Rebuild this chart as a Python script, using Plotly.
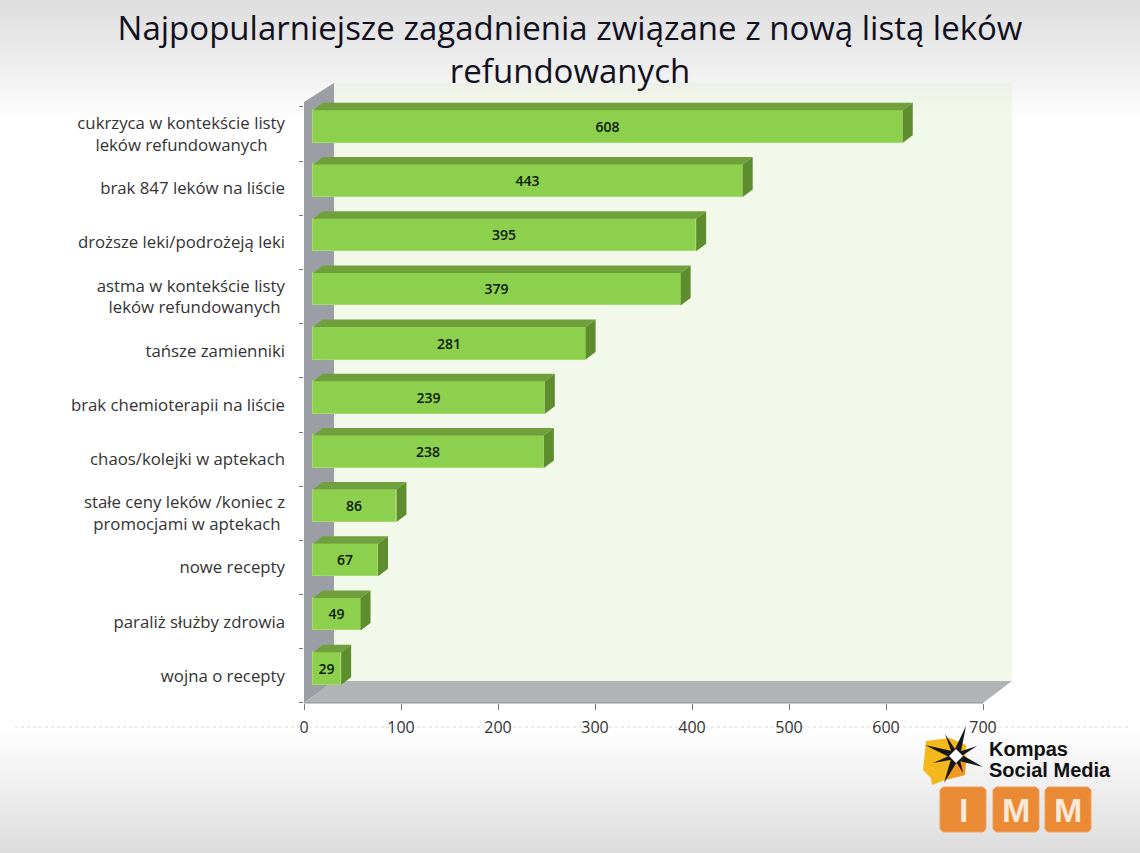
import plotly.graph_objects as go

W, H = 1140, 853

title_text = "Najpopularniejsze zagadnienia związane z nową listą leków<br>refundowanych"
categories = [
    "cukrzyca w kontekście listy<br>leków refundowanych\u00a0\u00a0\u00a0\u00a0",
    "brak 847 leków na liście",
    "droższe leki/podrożeją leki",
    "astma w kontekście listy<br>leków refundowanych\u00a0",
    "tańsze zamienniki",
    "brak chemioterapii na liście",
    "chaos/kolejki w aptekach",
    "stałe ceny leków /koniec z<br>promocjami w aptekach\u00a0",
    "nowe recepty",
    "paraliż służby zdrowia",
    "wojna o recepty",
]
values = [608, 443, 395, 379, 281, 239, 238, 86, 67, 49, 29]
x_ticks = [0, 100, 200, 300, 400, 500, 600, 700]

# plot geometry in pixels
X0, X700 = 304, 983
Y_BOT, Y_SLOT_TOP = 703, 107
ppx = (X700 - X0) / 700
slot = (Y_BOT - Y_SLOT_TOP) / 11
EXTRA = 0.35
Y_TOP = Y_SLOT_TOP - EXTRA * slot

# depth in data units
bar_base = 9 / ppx
bar_shift = 7.5 / slot
bar_h = 32.5 / slot
depth_x = 10 / ppx
depth_y = 7.5 / slot

positions = [i - bar_shift for i in range(len(values))]


def px(x):
    return x / W


def py(y):
    return 1 - y / H


def poly(points):
    return "M" + " L".join(f"{px(a):.5f},{py(b):.5f}" for a, b in points) + " Z"


shapes = []
# page background gradient
TOP_END, BOT_START = 120, 725
TOP_GREY, BOT_GREY = 222, 220
STEP = 4
for y in range(0, TOP_END, STEP):
    v = round(TOP_GREY + (255 - TOP_GREY) * (y / TOP_END) ** 1.1)
    shapes.append(dict(type="rect", xref="paper", yref="paper", x0=0, x1=1, y0=py(y), y1=py(y + STEP),
                       fillcolor=f"rgb({v},{v},{v})", line_width=0, layer="below"))
for y in range(BOT_START, H, STEP):
    v = round(255 + (BOT_GREY - 255) * ((y - BOT_START) / (H - BOT_START)))
    shapes.append(dict(type="rect", xref="paper", yref="paper", x0=0, x1=1, y0=py(y), y1=py(y + STEP),
                       fillcolor=f"rgb({v},{v},{v})", line_width=0, layer="below"))


def add_poly(points, fill, line=None):
    shapes.append(dict(type="path", xref="paper", yref="paper", path=poly(points), fillcolor=fill,
                       line=dict(width=0) if line is None else dict(color=line, width=1), layer="below"))


# dotted separator
shapes.append(dict(type="line", xref="paper", yref="paper", x0=px(15), x1=px(1128), y0=py(727), y1=py(727),
                   line=dict(color="#d8d8d8", width=1, dash="dot"), layer="below"))
# 3D frame
add_poly([(334, 83), (1012, 83), (1012, 681), (334, 681)], "#f2f9ea")
for k in range(8):
    y = 83 + 4 * k
    g = [0xee + k * 4 // 8, 0xf1 + k * 8 // 8, 0xe8 + k * 2 // 8]
    add_poly([(334, y), (1012, y), (1012, y + 4), (334, y + 4)], f"rgb({g[0]},{g[1]},{g[2]})")
add_poly([(304, 102), (334, 83), (334, 681), (304, 703)], "#9b9ea4")
add_poly([(304, 703), (334, 681), (1012, 681), (983, 703)], "#b1b4b7")
shapes.append(dict(type="line", xref="paper", yref="paper", x0=px(304), x1=px(983), y0=py(703), y1=py(703),
                   line=dict(color="#8f9296", width=1), layer="below"))

# logo
add_poly([(926, 741), (950, 738), (966, 745), (965, 775), (945, 780), (932, 785), (931, 778), (923, 770)], "#f5b81c")
add_poly([(945, 780), (965, 775), (966, 760), (950, 765)], "#f09a20")
c = (956, 756)
for tip, side in [((966, 726), 4), ((925, 745), 4), ((983, 767), 4), ((944, 783), 4),
                  ((945, 734), 3), ((977, 746), 3), ((933, 763), 3), ((963, 773), 3)]:
    dx, dy = tip[0] - c[0], tip[1] - c[1]
    n = (dx * dx + dy * dy) ** 0.5
    ox, oy = -dy / n * side, dx / n * side
    add_poly([(c[0] + ox, c[1] + oy), tip, (c[0] - ox, c[1] - oy)], "#15151c")
add_poly([(956, 749), (963, 756), (956, 763), (949, 756)], "#ffffff")
for x0 in [940, 993, 1045]:
    x1, y0, y1, r = x0 + 46, 787, 832, 3
    add_poly([(x0 + r, y0), (x1 - r, y0), (x1, y0 + r), (x1, y1 - r), (x1 - r, y1), (x0 + r, y1),
              (x0, y1 - r), (x0, y0 + r)], "#ea8a35", "#f0a060")

annotations = [
    dict(text=t, x=px(x), y=py(y), xref="paper", yref="paper", showarrow=False, xanchor=a, yanchor="middle",
         font=dict(family=f, size=s, color=col))
    for t, x, y, a, f, s, col in [
        ("<b>Kompas</b>", 987, 749, "left", "Liberation Sans", 20, "#111111"),
        ("<b>Social Media</b>", 987, 770, "left", "Liberation Sans", 20, "#111111"),
        ("<b>I</b>", 963, 810, "center", "Liberation Sans", 34, "#fbe9d8"),
        ("<b>M</b>", 1016, 810, "center", "Liberation Sans", 34, "#fbe9d8"),
        ("<b>M</b>", 1068, 810, "center", "Liberation Sans", 34, "#fbe9d8"),
    ]
]

fig = go.Figure()

# side and top faces computed from the values
for v, p in zip(values, positions):
    right = bar_base + v
    top = p - bar_h / 2
    bot = p + bar_h / 2
    fig.add_trace(go.Scatter(
        x=[bar_base, right, right + depth_x, bar_base + depth_x, bar_base],
        y=[top, top, top - depth_y, top - depth_y, top],
        mode="lines", fill="toself", fillcolor="#70a03c", line=dict(width=0), hoverinfo="skip", showlegend=False))
    fig.add_trace(go.Scatter(
        x=[right, right + depth_x, right + depth_x, right, right],
        y=[top, top - depth_y, bot - depth_y, bot, top],
        mode="lines", fill="toself", fillcolor="#5d8d2d", line=dict(width=0), hoverinfo="skip", showlegend=False))

fig.add_trace(go.Bar(
    x=values, y=positions, base=bar_base, orientation="h", width=bar_h,
    marker=dict(color="#8dd04e", line=dict(color="#a4da70", width=1)),
    text=[str(v) for v in values], textposition="inside", insidetextanchor="middle", textangle=0,
    constraintext="none", textfont=dict(family="Open Sans", size=14, color="#0c1a08", weight=600),
    hoverinfo="skip", showlegend=False))

fig.update_layout(
    width=W, height=H, autosize=False,
    margin=dict(l=0, r=0, t=0, b=0, pad=0, autoexpand=False),
    paper_bgcolor="#ffffff", plot_bgcolor="rgba(0,0,0,0)",
    title=dict(text=title_text, x=0.5, xanchor="center", y=py(40), yanchor="middle",
               font=dict(family="Open Sans", size=33, color="#111122")),
    shapes=shapes, annotations=annotations, showlegend=False, bargap=0,
    xaxis=dict(domain=[px(X0), px(X700)], range=[0, 700], tickmode="array", tickvals=x_ticks,
               ticks="outside", ticklen=6, tickcolor="#777777", showgrid=False, zeroline=False, showline=False,
               ticklabelstandoff=4,
               tickfont=dict(family="Open Sans", size=16, color="#333333")),
    yaxis=dict(domain=[py(Y_BOT), py(Y_TOP)], range=[len(values) - 0.5, -0.5 - EXTRA],
               tickmode="array", tickvals=list(range(len(values))), ticktext=categories,
               ticks="", showgrid=False, zeroline=False, showline=False, ticklabelstandoff=18,
               minor=dict(tickmode="array", tickvals=[i - 0.5 for i in range(len(values) + 1)],
                          ticks="outside", ticklen=4, tickcolor="#777777", showgrid=False),
               tickfont=dict(family="Open Sans", size=16.8, color="#333333")),
)

fig.write_html("out.html", config={"responsive": False, "displayModeBar": False},
               post_script="document.body.style.margin='0';document.documentElement.style.overflow='hidden';")
